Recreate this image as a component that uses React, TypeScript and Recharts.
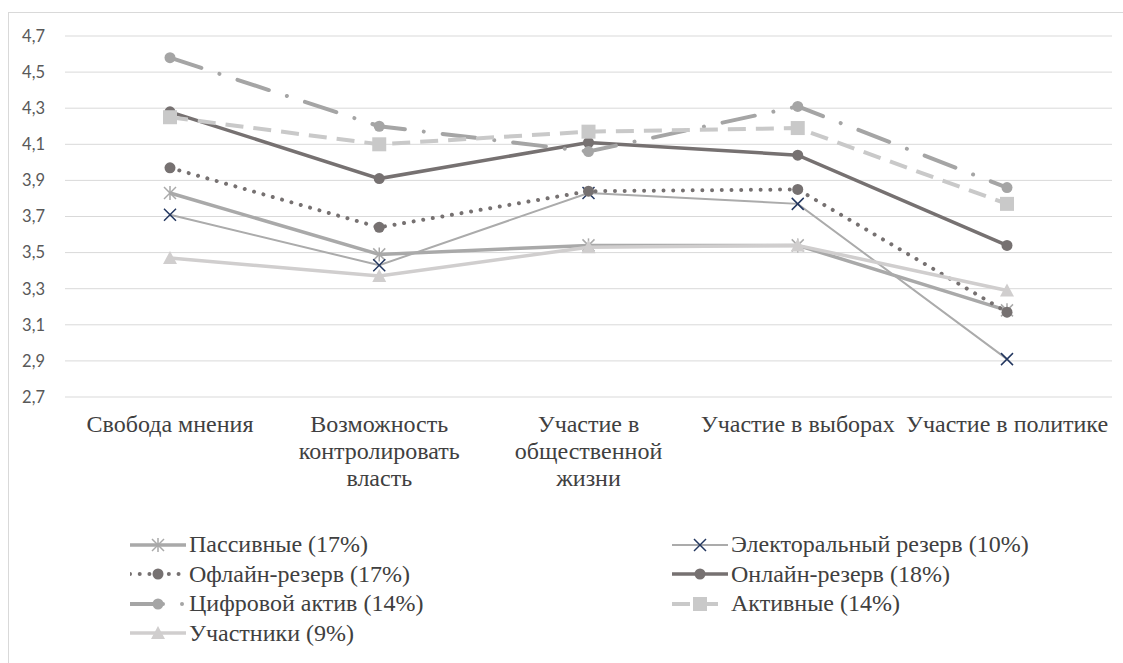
import React from "react";
import { LineChart, Line, XAxis, YAxis, CartesianGrid } from "recharts";

const CATEGORIES = [
  "Свобода мнения",
  "Возможность контролировать власть",
  "Участие в общественной жизни",
  "Участие в выборах",
  "Участие в политике",
];

const PASSIVE = [3.83, 3.49, 3.54, 3.54, 3.18];
const ELECTORAL = [3.71, 3.43, 3.83, 3.77, 2.91];
const OFFLINE = [3.97, 3.64, 3.84, 3.85, 3.17];
const ONLINE = [4.28, 3.91, 4.11, 4.04, 3.54];
const DIGITAL = [4.58, 4.2, 4.06, 4.31, 3.86];
const ACTIVE = [4.25, 4.1, 4.17, 4.19, 3.77];
const PARTICIPANTS = [3.47, 3.37, 3.53, 3.54, 3.29];

const Y_TICKS = [2.7, 2.9, 3.1, 3.3, 3.5, 3.7, 3.9, 4.1, 4.3, 4.5, 4.7];

type Shape = "star" | "x" | "circle" | "square" | "triangle";

const SERIES = [
  { key: "passive", name: "Пассивные (17%)", values: PASSIVE, color: "#a9a9a9", width: 3.5, shape: "star" as Shape, mark: "#a9a9a9" },
  { key: "electoral", name: "Электоральный резерв (10%)", values: ELECTORAL, color: "#ababab", width: 2, shape: "x" as Shape, mark: "#22365f" },
  { key: "offline", name: "Офлайн-резерв (17%)", values: OFFLINE, color: "#767171", width: 4, dash: "0.01 9.7", cap: "round", shape: "circle" as Shape, mark: "#767171" },
  { key: "online", name: "Онлайн-резерв (18%)", values: ONLINE, color: "#767171", width: 3.5, shape: "circle" as Shape, mark: "#767171" },
  { key: "digital", name: "Цифровой актив (14%)", values: DIGITAL, color: "#a5a5a5", width: 4, dash: "33 19 0.01 19", cap: "round", shape: "circle" as Shape, mark: "#a5a5a5" },
  { key: "active", name: "Активные (14%)", values: ACTIVE, color: "#c9c9c9", width: 4, dash: "18 10", shape: "square" as Shape, mark: "#c9c9c9" },
  { key: "participants", name: "Участники (9%)", values: PARTICIPANTS, color: "#d0cece", width: 3.5, shape: "triangle" as Shape, mark: "#d0cece" },
];

const rows = CATEGORIES.map((c, i) => {
  const r: Record<string, string | number> = { name: c };
  SERIES.forEach((s) => (r[s.key] = s.values[i]));
  return r;
});

const SERIF = "'Liberation Serif', 'DejaVu Serif', serif";
const LABEL_FONT = `24px ${SERIF}`;

let ctx: CanvasRenderingContext2D | null = null;
function wrap(text: string, maxWidth: number): string[] {
  if (!ctx) ctx = document.createElement("canvas").getContext("2d");
  if (!ctx) return [text];
  ctx.font = LABEL_FONT;
  const lines: string[] = [];
  let cur = "";
  for (const w of text.split(" ")) {
    const next = cur ? `${cur} ${w}` : w;
    if (cur && ctx.measureText(next).width > maxWidth) {
      lines.push(cur);
      cur = w;
    } else cur = next;
  }
  if (cur) lines.push(cur);
  return lines;
}

function Marker({ shape, cx, cy, color }: { shape: Shape; cx: number; cy: number; color: string }) {
  if (shape === "circle") return <circle cx={cx} cy={cy} r={5.5} fill={color} />;
  if (shape === "square") return <rect x={cx - 7} y={cy - 7} width={14} height={14} fill={color} />;
  if (shape === "triangle")
    return <polygon points={`${cx},${cy - 7} ${cx + 7},${cy + 6} ${cx - 7},${cy + 6}`} fill={color} />;
  const d = 6;
  if (shape === "x")
    return (
      <g stroke={color} strokeWidth={1.5}>
        <line x1={cx - d} y1={cy - d} x2={cx + d} y2={cy + d} />
        <line x1={cx - d} y1={cy + d} x2={cx + d} y2={cy - d} />
      </g>
    );
  return (
    <g stroke={color} strokeWidth={1.5}>
      <line x1={cx - d} y1={cy - d} x2={cx + d} y2={cy + d} />
      <line x1={cx - d} y1={cy + d} x2={cx + d} y2={cy - d} />
      <line x1={cx} y1={cy - d - 1} x2={cx} y2={cy + d + 1} />
    </g>
  );
}

function CategoryTick(props: any) {
  const { x, y, payload } = props;
  const lines = wrap(String(payload.value), 208);
  return (
    <text x={x} y={y + 35} textAnchor="middle" fill="#404040" style={{ fontFamily: SERIF, fontSize: 24 }}>
      {lines.map((l, i) => (
        <tspan key={i} x={x} dy={i === 0 ? 0 : 27}>
          {l}
        </tspan>
      ))}
    </text>
  );
}

function LegendItem({ s }: { s: (typeof SERIES)[number] }) {
  return (
    <div style={{ display: "flex", alignItems: "center", height: 29.5, whiteSpace: "nowrap" }}>
      <svg width={56} height={20} style={{ marginRight: 3, flex: "none" }}>
        <line
          x1={0}
          y1={10}
          x2={56}
          y2={10}
          stroke={s.color}
          strokeWidth={s.width}
          strokeDasharray={s.dash}
          strokeLinecap={(s.cap as any) ?? "butt"}
        />
        <Marker shape={s.shape} cx={28} cy={10} color={s.mark} />
      </svg>
      <span>{s.name}</span>
    </div>
  );
}

export default function App() {
  return (
    <div style={{ position: "absolute", left: 0, top: 0, width: 1123, height: 663, overflow: "hidden", background: "#fff" }}>
      <div
        style={{
          position: "absolute",
          left: 8,
          top: 12,
          width: 1200,
          height: 700,
          borderTop: "1px solid #d9d9d9",
          borderLeft: "1px solid #d9d9d9",
        }}
      />
      <LineChart width={1123} height={663} data={rows} margin={{ top: 36, right: 11, bottom: 236, left: 15 }}>
        <CartesianGrid vertical={false} stroke="#d9d9d9" />
        <XAxis
          dataKey="name"
          height={30}
          axisLine={false}
          tickLine={false}
          tickSize={0}
          tickMargin={0}
          interval={0}
          padding={{ left: 105, right: 105 }}
          tick={<CategoryTick />}
        />
        <YAxis
          width={50}
          domain={[2.7, 4.7]}
          ticks={Y_TICKS}
          axisLine={false}
          tickLine={false}
          tickSize={0}
          tickMargin={20}
          tickFormatter={(v: number) => v.toFixed(1).replace(".", ",")}
          tick={{ fill: "#595959", fontSize: 16.5, fontFamily: "Lato, 'Open Sans', sans-serif" }}
        />
        {SERIES.map((s) => (
          <Line
            key={s.key}
            dataKey={s.key}
            name={s.name}
            type="linear"
            stroke={s.color}
            strokeWidth={s.width}
            strokeDasharray={s.dash}
            strokeLinecap={(s.cap as any) ?? "butt"}
            isAnimationActive={false}
            activeDot={false}
            dot={(p: any) => <Marker key={`${s.key}-${p.index}`} shape={s.shape} cx={p.cx} cy={p.cy} color={s.mark} />}
          />
        ))}
      </LineChart>
      <div
        style={{
          position: "absolute",
          top: 530,
          left: 130,
          display: "grid",
          gridTemplateColumns: "542px 420px",
          fontFamily: SERIF,
          fontSize: 24,
          lineHeight: "29.5px",
          color: "#404040",
        }}
      >
        {SERIES.map((s) => (
          <LegendItem key={s.key} s={s} />
        ))}
      </div>
    </div>
  );
}
